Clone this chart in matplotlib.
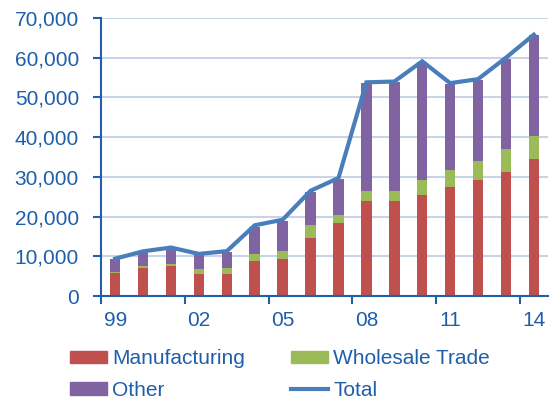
import numpy as np
import matplotlib
matplotlib.use("Agg")
import matplotlib.pyplot as plt
from matplotlib.patches import Patch
from matplotlib.lines import Line2D
from matplotlib.ticker import FuncFormatter, FixedLocator

plt.rcParams['font.family'] = ['Liberation Sans', 'DejaVu Sans']

# data
years = list(range(1999, 2015))
manufacturing = [5750, 7100, 7600, 5500, 5450, 8900, 9250, 14600,
                 18300, 23900, 23900, 25400, 27400, 29300, 31300, 34400]
wholesale = [400, 400, 550, 1250, 1550, 1750, 2200, 3350,
             2100, 2650, 2650, 3850, 4400, 4600, 5800, 5900]
other = [3200, 3500, 3850, 3700, 4200, 6850, 7500, 8350,
         9100, 27150, 27300, 29650, 21600, 20500, 22600, 25400]
total = [9400, 11250, 12200, 10600, 11300, 17800, 19200, 26500,
         29700, 53800, 54000, 59100, 53600, 54600, 60000, 65800]
tick_labels = ['99', '02', '05', '08', '11', '14']

c_man = '#C0504D'
c_whl = '#9BBB59'
c_oth = '#8064A2'
c_tot = '#4A7EBB'
c_txt = '#1F5FAA'
c_axis = '#2160A8'
fs = 15

fig = plt.figure(figsize=(5.5, 4), dpi=100)
ax = fig.add_axes([0.184, 0.26, 0.812, 0.695])

x = np.arange(len(years))
w = 0.38
man = np.array(manufacturing)
whl = np.array(wholesale)
ax.bar(x, man, w, color=c_man, zorder=2)
ax.bar(x, whl, w, bottom=man, color=c_whl, zorder=2)
ax.bar(x, other, w, bottom=man + whl, color=c_oth, zorder=2)
ax.plot(x, total, color=c_tot, lw=3, zorder=3, solid_joinstyle='miter')

ax.set_xlim(-0.5, len(years) - 0.5)
ax.set_ylim(0, 70000)
ax.set_yticks(np.arange(0, 70001, 10000))
ax.yaxis.set_major_formatter(FuncFormatter(lambda v, p: f'{int(v):,}'))
ax.grid(axis='y', color='#C9D3E8', lw=1.5, zorder=0)

# ticks between groups, labels under every third bar
ax.xaxis.set_major_locator(FixedLocator([-0.5, 2.5, 5.5, 8.5, 11.5, 14.5]))
ax.xaxis.set_major_formatter(plt.NullFormatter())
ax.set_xticks(x[::3], minor=True)
ax.set_xticklabels(tick_labels, minor=True)
ax.tick_params(axis='x', which='minor', length=0, pad=11)
ax.tick_params(axis='x', which='major', length=6, width=1.5, color=c_axis)
ax.tick_params(axis='y', length=6, width=1.5, color=c_axis, pad=10)
ax.tick_params(which='both', labelsize=fs, labelcolor=c_txt)

for s in ['top', 'right']:
    ax.spines[s].set_visible(False)
for s in ['left', 'bottom']:
    ax.spines[s].set_color(c_axis)
    ax.spines[s].set_linewidth(1.5)

# legend: two columns placed separately
col1 = [Patch(color=c_man, label='Manufacturing'),
        Patch(color=c_oth, label='Other')]
col2 = [Patch(color=c_whl, label='Wholesale Trade'),
        Line2D([], [], color=c_tot, lw=3, label='Total')]
opts = dict(loc='upper left', frameon=False, fontsize=fs,
            handlelength=1.78, handleheight=0.55, handletextpad=0.25,
            labelspacing=0.62, borderpad=0, borderaxespad=0)
for hs, xa in [(col1, 70 / 550), (col2, 291 / 550)]:
    leg = fig.legend(handles=hs, bbox_to_anchor=(xa, 0.127), **opts)
    for t in leg.get_texts():
        t.set_color(c_txt)

fig.savefig('out.png', dpi=100)
